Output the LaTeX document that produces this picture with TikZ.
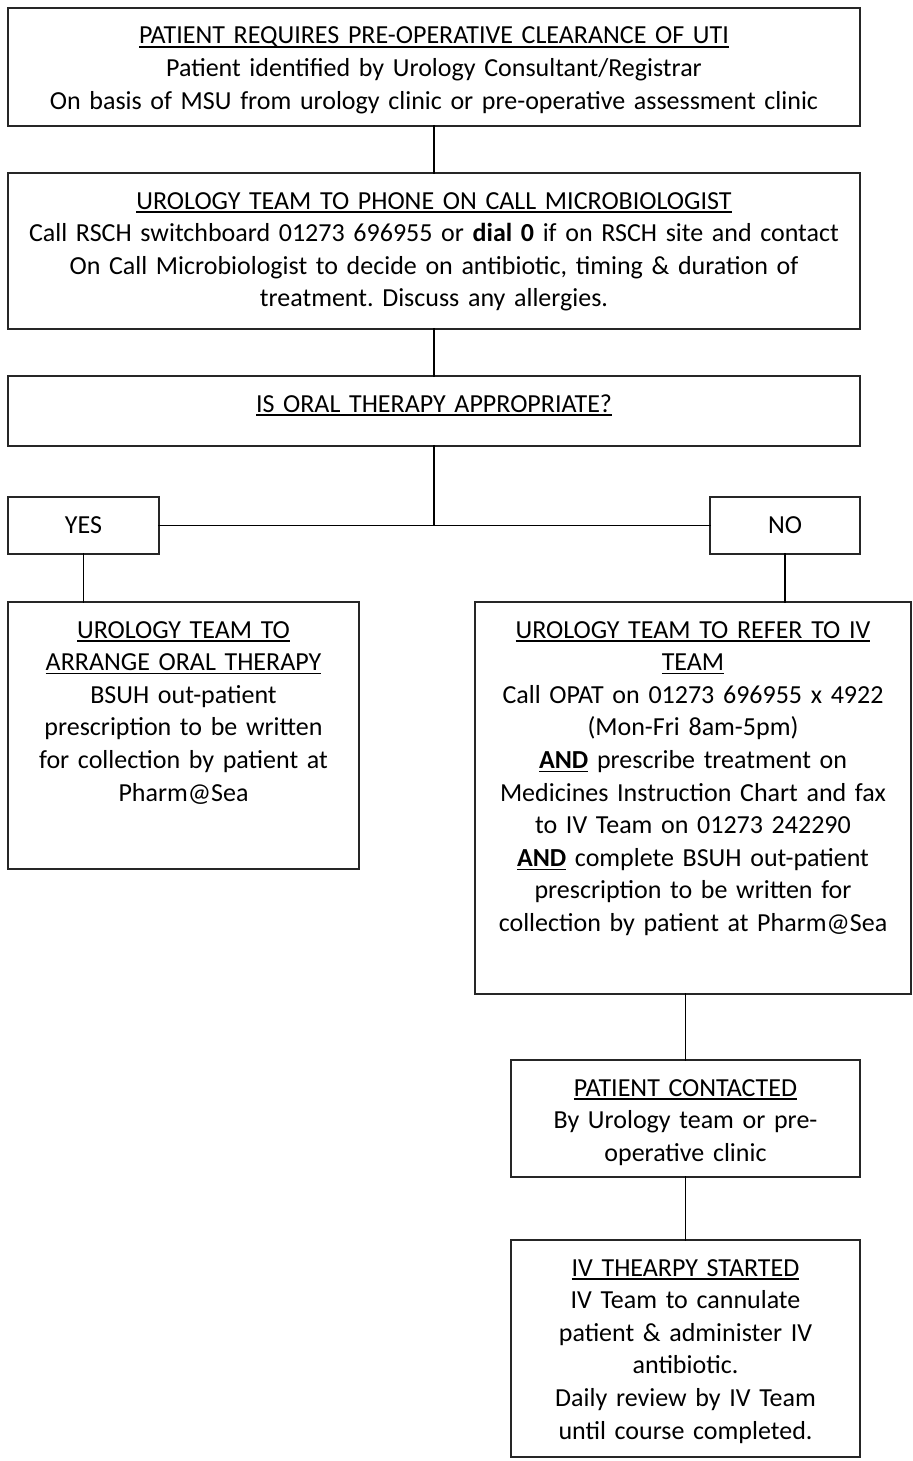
\documentclass[tikz,border=0pt]{standalone}
\usepackage{fontspec}
\setmainfont{Carlito}
\usepackage{tikz}
\usetikzlibrary{positioning,calc}
\definecolor{ink}{HTML}{000000}
\definecolor{frame}{HTML}{262626}
\newcommand{\ulin}[1]{\leavevmode\setbox0\hbox{#1}\rlap{\rule[-1.8pt]{\wd0}{0.65pt}}\box0\relax}
\frenchspacing
\tikzset{
    every picture/.style={line cap=rect,line join=miter},
    flowbox/.style={draw=frame,line width=0.6pt,anchor=north west,
      inner sep=0pt,outer sep=0pt,align=center,text=ink,
      text height=18pt,font=\fontsize{13pt}{16.3pt}\selectfont},
    link/.style={draw=ink,line width=0.7pt}
}
\begin{document}
\begin{tikzpicture}[x=0.5pt,y=-0.5pt]
  \useasboundingbox (0,0) rectangle (913,1461);
  % main column
  \node[flowbox,text width=426pt,text depth=41pt] (start) at (8,8)
    {\ulin{PATIENT REQUIRES PRE-OPERATIVE CLEARANCE OF UTI}\\
     Patient identified by Urology Consultant/Registrar\\
     On basis of MSU from urology clinic or pre-operative assessment clinic};
  \node[flowbox,text width=426pt,text depth=60pt] (phone) at (8,173)
    {\ulin{UROLOGY TEAM TO PHONE ON CALL MICROBIOLOGIST}\\
     Call RSCH switchboard 01273 696955 or \textbf{dial 0} if on RSCH site and contact\\
     On Call Microbiologist to decide on antibiotic, timing \& duration of\\
     treatment. Discuss any allergies.};
  \node[flowbox,text width=426pt,text depth=17pt] (oralq) at (8,376)
    {\ulin{IS ORAL THERAPY APPROPRIATE?}};
  % decision
  \node[flowbox,text width=75.5pt,text depth=10.5pt] (yes) at (8,497) {YES};
  \node[flowbox,text width=75pt,text depth=10.5pt] (no) at (710,497) {NO};
  % branches
  \node[flowbox,text width=175.5pt,text depth=115.5pt] (oral) at (8,602)
    {\ulin{UROLOGY TEAM TO}\\
     \ulin{ARRANGE ORAL THERAPY}\\
     BSUH out-patient\\
     prescription to be written\\
     for collection by patient at\\
     Pharm@Sea};
  \node[flowbox,text width=218pt,text depth=178pt] (refer) at (475,602)
    {\ulin{UROLOGY TEAM TO REFER TO IV}\\
     \ulin{TEAM}\\
     Call OPAT on 01273 696955 x 4922\\
     (Mon-Fri 8am-5pm)\\
     \ulin{\textbf{AND}} prescribe treatment on\\
     Medicines Instruction Chart and fax\\
     to IV Team on 01273 242290\\
     \ulin{\textbf{AND}} complete BSUH out-patient\\
     prescription to be written for\\
     collection by patient at Pharm@Sea};
  \node[flowbox,text width=174.5pt,text depth=40.5pt] (contacted) at (511,1060)
    {\ulin{PATIENT CONTACTED}\\
     By Urology team or pre-\\
     operative clinic};
  \node[flowbox,text width=174.5pt,text depth=90.5pt] (ivstart) at (511,1240)
    {\ulin{IV THEARPY STARTED}\\
     IV Team to cannulate\\
     patient \& administer IV\\
     antibiotic.\\
     Daily review by IV Team\\
     until course completed.};
  % connectors
  \coordinate (split) at (oralq.south |- yes.east);
  \draw[link] (start.south) -- (phone.north);
  \draw[link] (phone.south) -- (oralq.north);
  \draw[link] (oralq.south) -- (split);
  \draw[link] (yes.east) -- (no.west);
  \draw[link] (yes.south) -- (yes.south |- oral.north);
  \draw[link] (no.south) -- (no.south |- refer.north);
  \draw[link] (contacted.north |- refer.south) -- (contacted.north);
  \draw[link] (contacted.south) -- (ivstart.north);
\end{tikzpicture}
\end{document}
